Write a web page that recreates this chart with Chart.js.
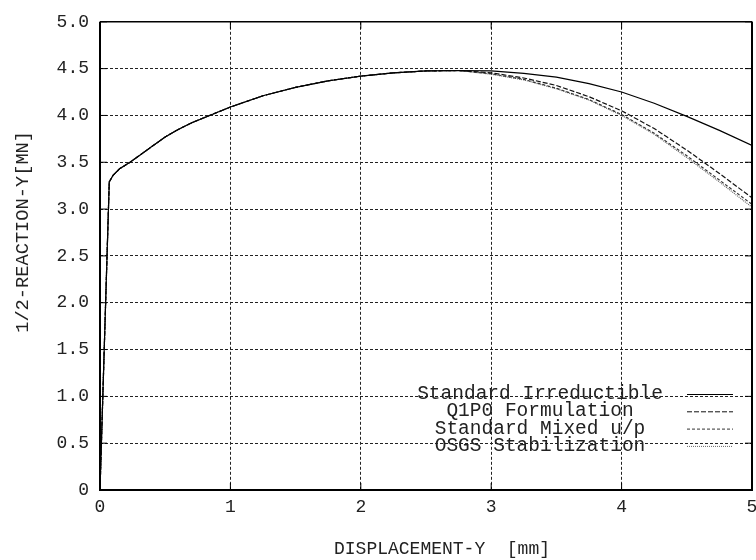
<!DOCTYPE html>
<html>
<head>
<meta charset="utf-8">
<script src="https://cdn.jsdelivr.net/npm/chart.js@4/dist/chart.umd.min.js"></script>
<style>
  html, body { margin: 0; padding: 0; background: #fff; overflow: hidden; }
  #wrap { width: 764px; height: 560px; }
</style>
</head>
<body>
<div id="wrap"><canvas id="reaction-chart" width="764" height="560"></canvas></div>
<script>
// common loading branch (all formulations coincide here)
const dispHead  = [0, 0.071, 0.1, 0.15, 0.23, 0.3, 0.4, 0.5, 0.6, 0.7, 0.85, 1.0, 1.25, 1.5, 1.75, 2.0, 2.25, 2.5, 2.75];
const reactHead = [0, 3.29, 3.36, 3.43, 3.50, 3.57, 3.67, 3.77, 3.85, 3.92, 4.005, 4.09, 4.21, 4.30, 4.37, 4.42, 4.455, 4.475, 4.48];

// softening branch, one series per formulation
const dispTail     = [3.0, 3.25, 3.5, 3.75, 4.0, 4.25, 4.5, 4.75, 5.0];
const reactStd     = [4.475, 4.45, 4.41, 4.34, 4.25, 4.13, 3.99, 3.84, 3.68];
const reactQ1P0    = [4.455, 4.40, 4.32, 4.20, 4.05, 3.86, 3.63, 3.38, 3.12];
const reactMixed   = [4.445, 4.385, 4.29, 4.17, 4.01, 3.81, 3.57, 3.31, 3.05];
const reactOSGS    = [4.44, 4.38, 4.285, 4.165, 4.00, 3.80, 3.55, 3.29, 3.02];

const seriesNames = ['Standard Irreductible', 'Q1P0 Formulation', 'Standard Mixed u/p', 'OSGS Stabilization'];

const xTicks = [0, 1, 2, 3, 4, 5];
const yTicks = [0, 0.5, 1.0, 1.5, 2.0, 2.5, 3.0, 3.5, 4.0, 4.5, 5.0];

const FONT = "'Liberation Mono', 'DejaVu Sans Mono', monospace";
Chart.defaults.font.family = FONT;
Chart.defaults.font.size = 18;
Chart.defaults.color = '#222';

const toPoints = (tail) => {
    const pts = dispHead.map((x, i) => ({ x: x, y: reactHead[i] }));
    dispTail.forEach((x, i) => pts.push({ x: x, y: tail[i] }));
    return pts;
};

const styles = [
    { color: '#000', dash: [] },
    { color: '#111', dash: [5, 2] },
    { color: '#333', dash: [3, 2] },
    { color: '#666', dash: [1, 1] },
];

const data = {
    datasets: [reactStd, reactQ1P0, reactMixed, reactOSGS].map((tail, i) => ({
        label: seriesNames[i],
        data: toPoints(tail),
        borderColor: styles[i].color,
        borderDash: styles[i].dash,
        borderWidth: 1.2,
        pointRadius: 0,
        tension: 0,
        fill: false,
    })),
};

/**
 * Frame, inner ticks, legend and axis titles in the gnuplot style
 */
const plotDecor = {
    id: 'plotDecor',
    afterDatasetsDraw(chart) {
        const { ctx, chartArea: a, scales } = chart;
        ctx.save();
        ctx.strokeStyle = '#000';
        ctx.setLineDash([]);

        // inner ticks
        ctx.lineWidth = 1;
        ctx.beginPath();
        yTicks.forEach((v) => {
            const py = scales.y.getPixelForValue(v);
            ctx.moveTo(a.left, py); ctx.lineTo(a.left + 7, py);
            ctx.moveTo(a.right, py); ctx.lineTo(a.right - 7, py);
        });
        xTicks.forEach((v) => {
            const px = scales.x.getPixelForValue(v);
            ctx.moveTo(px, a.bottom); ctx.lineTo(px, a.bottom - 7);
            ctx.moveTo(px, a.top); ctx.lineTo(px, a.top + 7);
        });
        ctx.stroke();

        // frame
        ctx.lineWidth = 2;
        ctx.beginPath();
        ctx.moveTo(a.left, a.top);
        ctx.lineTo(a.left, a.bottom);
        ctx.lineTo(a.right, a.bottom);
        ctx.lineTo(a.right, a.top);
        ctx.stroke();
        ctx.lineWidth = 1.5;
        ctx.beginPath();
        ctx.moveTo(a.left, a.top);
        ctx.lineTo(a.right, a.top);
        ctx.stroke();

        // legend
        ctx.font = '19.5px ' + FONT;
        ctx.fillStyle = '#222';
        ctx.textBaseline = 'middle';
        ctx.textAlign = 'center';
        chart.data.datasets.forEach((ds, i) => {
            const rowY = a.bottom - 96 + i * 17.3;
            ctx.fillText(ds.label, a.right - 212, rowY);
            ctx.save();
            ctx.strokeStyle = ds.borderColor;
            ctx.setLineDash(ds.borderDash);
            ctx.lineWidth = 1;
            ctx.beginPath();
            ctx.moveTo(a.right - 65, rowY + 0.5);
            ctx.lineTo(a.right - 19, rowY + 0.5);
            ctx.stroke();
            ctx.restore();
        });

        // axis titles
        ctx.font = '18px ' + FONT;
        ctx.fillText('DISPLACEMENT-Y  [mm]', (a.left + a.right) / 2 + 16, 549);
        ctx.font = '18.7px ' + FONT;
        ctx.translate(23, (a.top + a.bottom) / 2 - 24);
        ctx.rotate(-Math.PI / 2);
        ctx.fillText('1/2-REACTION-Y[MN]', 0, 0);
        ctx.restore();
    },
};

const gridStyle = {
    color: '#222',
    lineWidth: 1,
    drawTicks: false,
};

const options = {
    responsive: false,
    animation: false,
    layout: { padding: { top: 14, right: 12, left: 0, bottom: 0 } },
    plugins: {
        legend: { display: false },
        tooltip: { enabled: false },
    },
    scales: {
        x: {
            type: 'linear',
            min: 0,
            max: 5,
            afterBuildTicks: (scale) => { scale.ticks = xTicks.map((v) => ({ value: v })); },
            afterFit: (scale) => { scale.height = 70; },
            ticks: { padding: 6, maxRotation: 0, callback: (v) => String(v) },
            grid: gridStyle,
            border: { display: false, dash: [3, 2] },
        },
        y: {
            type: 'linear',
            min: 0,
            max: 5,
            afterBuildTicks: (scale) => { scale.ticks = yTicks.map((v) => ({ value: v })); },
            afterFit: (scale) => { scale.width = 100; },
            ticks: { padding: 11, callback: (v) => (v === 0 ? '0' : Number(v).toFixed(1)) },
            grid: gridStyle,
            border: { display: false, dash: [3, 2] },
        },
    },
};

new Chart(document.getElementById('reaction-chart'), {
    type: 'line',
    data: data,
    options: options,
    plugins: [plotDecor],
});
</script>
</body>
</html>
